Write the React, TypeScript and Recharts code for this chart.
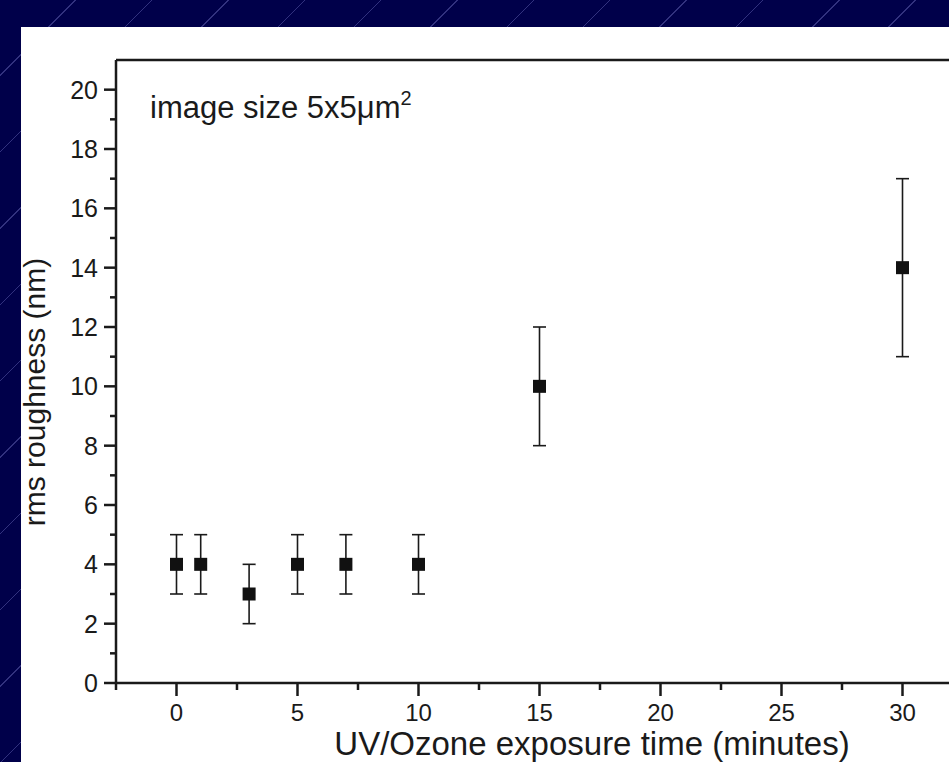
import React from "react";
import {
  ScatterChart,
  Scatter,
  XAxis,
  YAxis,
  ZAxis,
  ErrorBar,
  ReferenceLine,
} from "recharts";

// exposure time (min), rms roughness (nm), error (nm)
const times = [0, 1, 3, 5, 7, 10, 15, 30];
const roughness = [4, 4, 3, 4, 4, 4, 10, 14];
const errors = [1, 1, 1, 1, 1, 1, 2, 3];

const xTicks = [-2.5, 0, 2.5, 5, 7.5, 10, 12.5, 15, 17.5, 20, 22.5, 25, 27.5, 30, 32.5];
const yTicks = [0, 1, 2, 3, 4, 5, 6, 7, 8, 9, 10, 11, 12, 13, 14, 15, 16, 17, 18, 19, 20];

const xTitle = "UV/Ozone exposure time (minutes)";
const yTitle = "rms roughness (nm)";

const data = times.map((t, i) => ({ x: t, y: roughness[i], err: errors[i] }));

const INK = "#1a1a1a";
const FONT = "'Liberation Sans', Arial, sans-serif";

const XTick = (props: any) => {
  const { x, y, payload } = props;
  const major = payload.value % 5 === 0;
  return (
    <g>
      <line x1={x} y1={y} x2={x} y2={y + (major ? 13 : 7)} stroke={INK} strokeWidth={2.5} />
      {major && (
        <text x={x} y={y + 38} textAnchor="middle" fontSize={24} fontFamily={FONT} fill={INK}>
          {payload.value}
        </text>
      )}
    </g>
  );
};

const YTick = (props: any) => {
  const { x, y, payload } = props;
  const major = payload.value % 2 === 0;
  return (
    <g>
      <line x1={x} y1={y} x2={x - (major ? 12 : 6)} y2={y} stroke={INK} strokeWidth={2.5} />
      {major && (
        <text x={x - 18} y={y + 9} textAnchor="end" fontSize={25} fontFamily={FONT} fill={INK}>
          {payload.value}
        </text>
      )}
    </g>
  );
};

const Square = (p: any) => (
  <rect x={p.cx - 6.5} y={p.cy - 6.5} width={13} height={13} fill="#111" />
);

export default function App() {
  return (
    <div
      style={{
        position: "fixed",
        left: 0,
        top: 0,
        width: 949,
        height: 762,
        overflow: "hidden",
        backgroundColor: "#00004a",
        backgroundImage:
          "repeating-linear-gradient(135deg, transparent 0px, transparent 53px, rgba(110,110,190,0.45) 53px, rgba(110,110,190,0.45) 54px)",
      }}
    >
      <div style={{ position: "absolute", left: 21, top: 27, right: 0, bottom: 0, background: "#fff" }} />
      <div style={{ position: "absolute", left: 0, top: 0 }}>
        <ScatterChart width={1000} height={762} margin={{ top: 60, right: 37, left: 0, bottom: 0 }}>
          <XAxis
            type="number"
            dataKey="x"
            domain={[-2.5, 32.5]}
            ticks={xTicks}
            interval={0}
            allowDataOverflow
            height={79}
            tickLine={false}
            tickSize={0}
            tickMargin={0}
            axisLine={{ stroke: INK, strokeWidth: 2.5 }}
            tick={<XTick />}
          />
          <YAxis
            type="number"
            dataKey="y"
            domain={[0, 21]}
            ticks={yTicks}
            interval={0}
            allowDataOverflow
            width={116}
            tickLine={false}
            tickSize={0}
            tickMargin={0}
            axisLine={{ stroke: INK, strokeWidth: 2.5 }}
            tick={<YTick />}
          />
          <ZAxis range={[169, 169]} />
          <ReferenceLine y={21} stroke={INK} strokeWidth={2.5} />
          <Scatter data={data} shape={<Square />} isAnimationActive={false}>
            <ErrorBar dataKey="err" direction="y" width={6.5} stroke={INK} strokeWidth={1.6} />
          </Scatter>
        </ScatterChart>
      </div>
      <svg
        width={949}
        height={762}
        style={{ position: "absolute", left: 0, top: 0, pointerEvents: "none" }}
      >
        <text x={150} y={118} fontSize={31} fontFamily={FONT} fill={INK}>
          image size 5x5μm
          <tspan fontSize={20} dy={-13}>2</tspan>
        </text>
        <text x={592} y={755} textAnchor="middle" fontSize={33} fontFamily={FONT} fill={INK}>
          {xTitle}
        </text>
        <text
          x={0}
          y={0}
          transform="translate(45, 392) rotate(-90)"
          textAnchor="middle"
          fontSize={30}
          fontFamily={FONT}
          fill={INK}
        >
          {yTitle}
        </text>
      </svg>
    </div>
  );
}
